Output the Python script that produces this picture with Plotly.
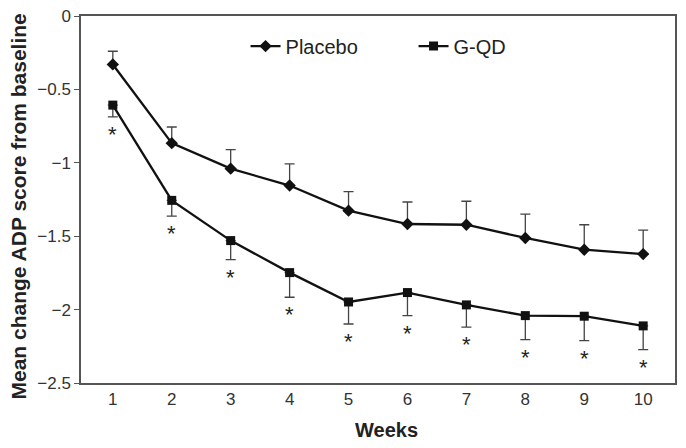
import plotly.graph_objects as go

weeks = [1, 2, 3, 4, 5, 6, 7, 8, 9, 10]
placebo = [-0.33, -0.866, -1.04, -1.155, -1.326, -1.417, -1.422, -1.512, -1.592, -1.622]
placebo_err = [0.09, 0.11, 0.13, 0.148, 0.13, 0.15, 0.16, 0.163, 0.17, 0.163]
gqd = [-0.607, -1.256, -1.53, -1.748, -1.948, -1.884, -1.968, -2.041, -2.045, -2.111]
gqd_err = [0.08, 0.107, 0.13, 0.168, 0.15, 0.157, 0.152, 0.164, 0.166, 0.162]
signif = ["*"] * 10
zeros = [0] * 10

font = "Liberation Sans, Arial, sans-serif"

fig = go.Figure()
fig.add_trace(go.Scatter(
    x=weeks, y=placebo, name="Placebo", mode="lines+markers",
    line=dict(color="#111111", width=2.3),
    marker=dict(symbol="diamond", size=9.5, color="#111111"),
    error_y=dict(type="data", array=placebo_err, arrayminus=zeros, symmetric=False,
                 color="#444444", thickness=1.3, width=5),
))
fig.add_trace(go.Scatter(
    x=weeks, y=gqd, name="G-QD", mode="lines+markers",
    line=dict(color="#111111", width=2.3),
    marker=dict(symbol="square", size=9, color="#111111"),
    error_y=dict(type="data", array=zeros, arrayminus=gqd_err, symmetric=False,
                 color="#444444", thickness=1.3, width=5),
))

# significance stars under the G-QD error bars
for wk, g, e, s in zip(weeks, gqd, gqd_err, signif):
    fig.add_annotation(x=wk, y=g - e, text=s, showarrow=False,
                       yanchor="top", yshift=-3,
                       font=dict(family=font, size=22, color="#222222"))

# axis titles as annotations (placed like the original, slightly off-centre)
fig.add_annotation(text="<b>Mean change ADP score from baseline</b>", textangle=-90,
                   xref="paper", yref="paper", x=0, y=0.5, xanchor="center",
                   yanchor="middle", xshift=-63, yshift=-7, showarrow=False,
                   font=dict(family=font, size=21, color="#222222"))
fig.add_annotation(text="<b>Weeks</b>", xref="paper", yref="paper", x=0.5, y=0,
                   xanchor="center", yanchor="middle", xshift=8, yshift=-47,
                   showarrow=False, font=dict(family=font, size=20, color="#222222"))

fig.update_layout(
    width=686, height=448,
    margin=dict(l=81, r=11, t=16, b=65),
    plot_bgcolor="white", paper_bgcolor="white",
    font=dict(family=font, color="#333333"),
    legend=dict(orientation="h", x=0.277, y=0.918, xanchor="left", yanchor="middle",
                font=dict(size=20, color="#222222"), bgcolor="rgba(0,0,0,0)",
                entrywidth=123),
    xaxis=dict(range=[0.46, 10.54], tickvals=weeks, ticks="", showgrid=False,
               showline=True, linecolor="#555555", linewidth=1.5, mirror=True,
               tickfont=dict(size=17, color="#333333"), zeroline=False,
               automargin=False),
    yaxis=dict(range=[-2.5, 0], dtick=0.5, ticks="outside", ticklen=5,
               tickcolor="#555555", showgrid=False, zeroline=False,
               showline=True, linecolor="#555555", linewidth=1.5, mirror=True,
               tickfont=dict(size=17, color="#333333"), automargin=False),
)

fig.write_html("out.html", config={"displayModeBar": False},
               post_script="document.body.style.margin='0';")
